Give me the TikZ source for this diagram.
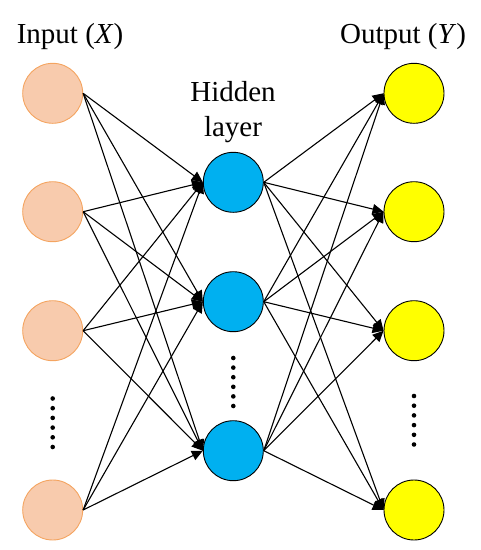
\documentclass[tikz,border=0pt]{standalone}
\usepackage{fontspec}
\setmainfont{Liberation Serif}
\usetikzlibrary{arrows.meta}
\definecolor{infill}{RGB}{248,203,173}
\definecolor{indraw}{RGB}{244,164,96}
\definecolor{hidfill}{RGB}{0,176,240}
\definecolor{outfill}{RGB}{255,255,0}
\tikzset{
  neuron/.style={circle,minimum size=60pt,inner sep=0pt,line width=0.9pt},
  innode/.style={neuron,fill=infill,draw=indraw},
  hidnode/.style={neuron,fill=hidfill,draw=black},
  outnode/.style={neuron,fill=outfill,draw=black},
  conn/.style={line width=1.1pt,-{Triangle[length=11pt,width=10pt]}},
  title/.style={anchor=base,inner sep=0pt,font=\fontsize{29}{34}\selectfont},
  dot/.style={circle,fill=black,minimum size=4.6pt,inner sep=0pt}
}
\begin{document}
\begin{tikzpicture}[x=1pt,y=-1pt]
\useasboundingbox (0,0) rectangle (481,550);
\node[title] (tin) at (70,43) {Input (\textit{X})};
\node[title] (tout) at (403,43) {Output (\textit{Y})};
\node[title] (th1) at (233,101.7) {Hidden};
\node[title] (th2) at (233,136) {layer};
\node[innode] (i1) at (52.7,93.3) {};
\node[innode] (i2) at (52.7,211.7) {};
\node[innode] (i3) at (52.7,330.7) {};
\node[innode] (i4) at (52.7,510) {};
\node[hidnode] (h1) at (233.3,182.3) {};
\node[hidnode] (h2) at (233.3,301.7) {};
\node[hidnode] (h3) at (233.3,450.7) {};
\node[outnode] (o1) at (414,93.3) {};
\node[outnode] (o2) at (414,211.7) {};
\node[outnode] (o3) at (414,330.7) {};
\node[outnode] (o4) at (414,510) {};
\foreach \k in {0,...,5}{
  \node[dot] (di\k) at (52.7,398.5+9.7*\k) {};
  \node[dot] (dh\k) at (233.3,358+9.6*\k) {};
  \node[dot] (do\k) at (414,396+9.7*\k) {};
}
\foreach \a in {i1,i2,i3,i4}{
  \foreach \b in {h1,h2,h3}{
    \draw[conn] (\a.east) -- (\b.west);
  }
}
\foreach \a in {h1,h2,h3}{
  \foreach \b in {o1,o2,o3,o4}{
    \draw[conn] (\a.east) -- (\b.west);
  }
}
\end{tikzpicture}
\end{document}
